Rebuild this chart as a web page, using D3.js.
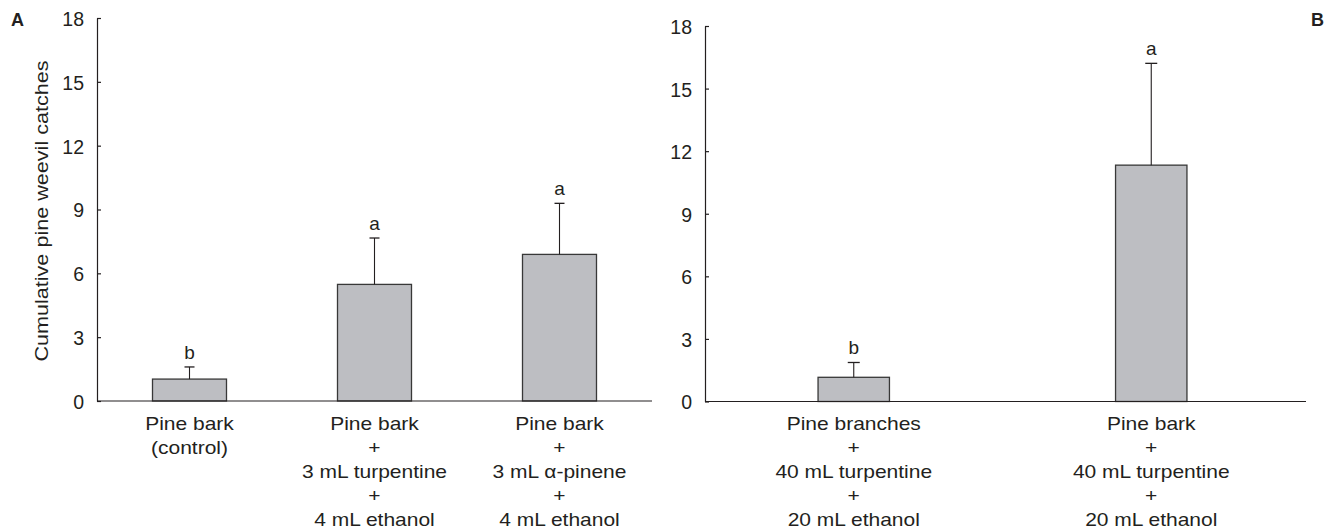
<!DOCTYPE html>
<html>
<head>
<meta charset="utf-8">
<script src="https://cdn.jsdelivr.net/npm/d3@7"></script>
<style>
  html, body { margin: 0; padding: 0; background: #fff; }
  svg { display: block; font-family: "Liberation Sans", Arial, Helvetica, sans-serif; }
</style>
</head>
<body>
<svg id="chart" width="1338" height="530"></svg>
<script>
// ---- Data ----
const leftCategories = [
  ["Pine bark", "(control)"],
  ["Pine bark", "+", "3 mL turpentine", "+", "4 mL ethanol"],
  ["Pine bark", "+", "3 mL \u03B1-pinene", "+", "4 mL ethanol"]
];
const leftMeans = [1.03, 5.48, 6.89];
const leftErrors = [0.57, 2.18, 2.40];
const leftLetters = ["b", "a", "a"];

const rightCategories = [
  ["Pine branches", "+", "40 mL turpentine", "+", "20 mL ethanol"],
  ["Pine bark", "+", "40 mL turpentine", "+", "20 mL ethanol"]
];
const rightMeans = [1.16, 11.33];
const rightErrors = [0.71, 4.88];
const rightLetters = ["b", "a"];

const yTicks = [0, 3, 6, 9, 12, 15, 18];
const yLabel = "Cumulative pine weevil catches";

// ---- Styles ----
const ink = "#231f20";
const barFill = "#bdbec2";
const barStroke = "#383838";
const stretch = 1.2;

const svg = d3.select("#chart");

function drawPanel(cfg) {
  const g = svg.append("g");
  const y = d3.scaleLinear().domain([0, 18]).range(cfg.yRange);
  const x = d3.scaleBand()
    .domain(d3.range(cfg.categories.length))
    .range(cfg.xRange)
    .paddingInner(cfg.padInner)
    .paddingOuter(cfg.padOuter);

  // y axis
  const yAxis = d3.axisLeft(y).tickValues(yTicks).tickSizeInner(-4).tickSizeOuter(0).tickPadding(13);
  const ya = g.append("g").attr("transform", `translate(${cfg.xRange[0]},0)`).call(yAxis);
  ya.select(".domain").attr("stroke", ink).attr("stroke-width", 1.2);
  ya.selectAll(".tick line").attr("stroke", ink).attr("stroke-width", 1.2);
  ya.selectAll(".tick text").attr("fill", ink).attr("font-size", 19.5).attr("font-family", null).attr("dy", "0.38em");

  // bars
  const data = cfg.means.map((m, i) => ({ i, m, e: cfg.errors[i], l: cfg.letters[i] }));
  g.selectAll("rect.bar").data(data).enter().append("rect")
    .attr("class", "bar")
    .attr("x", d => x(d.i))
    .attr("width", x.bandwidth())
    .attr("y", d => y(d.m))
    .attr("height", d => y(0) - y(d.m))
    .attr("fill", barFill)
    .attr("stroke", barStroke)
    .attr("stroke-width", 1.3);

  // error bars (upper only)
  const cx = d => x(d.i) + x.bandwidth() / 2;
  g.selectAll("line.err").data(data).enter().append("line")
    .attr("x1", cx).attr("x2", cx)
    .attr("y1", d => y(d.m)).attr("y2", d => y(d.m + d.e))
    .attr("stroke", ink).attr("stroke-width", 1.1);
  g.selectAll("line.cap").data(data).enter().append("line")
    .attr("x1", d => cx(d) - cfg.cap / 2).attr("x2", d => cx(d) + cfg.cap / 2)
    .attr("y1", d => y(d.m + d.e)).attr("y2", d => y(d.m + d.e))
    .attr("stroke", ink).attr("stroke-width", 1.3);

  // significance letters
  g.selectAll("text.sig").data(data).enter().append("text")
    .attr("x", cx).attr("y", d => y(d.m + d.e) - 8)
    .attr("text-anchor", "middle")
    .attr("font-size", 19)
    .attr("fill", ink)
    .text(d => d.l);

  // x axis line
  g.append("line")
    .attr("x1", cfg.xRange[0]).attr("x2", cfg.axisEnd)
    .attr("y1", y(0)).attr("y2", y(0))
    .attr("stroke", ink).attr("stroke-width", 1.2);

  // category labels
  cfg.categories.forEach((lines, i) => {
    const c = x(i) + x.bandwidth() / 2;
    lines.forEach((t, j) => {
      g.append("text")
        .attr("transform", `translate(${c},${430 + j * 24}) scale(${stretch},1)`)
        .attr("text-anchor", "middle")
        .attr("font-size", 17.5)
        .attr("fill", ink)
        .text(t);
    });
  });
}

drawPanel({
  categories: leftCategories, means: leftMeans, errors: leftErrors, letters: leftLetters,
  xRange: [97, 652], axisEnd: 652, yRange: [401, 18], padInner: 0.6, padOuter: 0.3, cap: 10
});
drawPanel({
  categories: rightCategories, means: rightMeans, errors: rightErrors, letters: rightLetters,
  xRange: [705, 1300], axisEnd: 1306, yRange: [401.5, 26], padInner: 0.76, padOuter: 0.38, cap: 12
});

// y axis title
svg.append("text")
  .attr("transform", `translate(48,211) rotate(-90) scale(${stretch},1)`)
  .attr("text-anchor", "middle")
  .attr("font-size", 18)
  .attr("fill", ink)
  .text(yLabel);

// panel letters
svg.append("text").attr("x", 11).attr("y", 26).attr("font-size", 18).attr("font-weight", "bold").attr("fill", ink).text("A");
svg.append("text").attr("x", 1311).attr("y", 26).attr("font-size", 18).attr("font-weight", "bold").attr("fill", ink).text("B");
</script>
</body>
</html>
